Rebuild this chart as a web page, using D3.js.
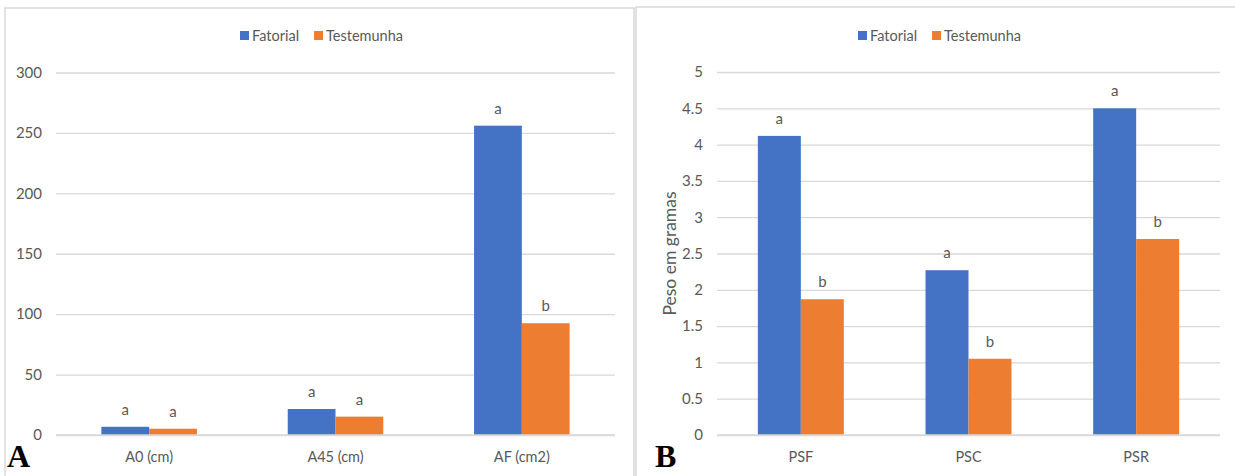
<!DOCTYPE html>
<html><head><meta charset="utf-8">
<script src="https://cdn.jsdelivr.net/npm/d3@7"></script>
<style>body{margin:0;background:#fff}svg{display:block}text{font-family:Lato,"Open Sans",sans-serif}</style>
</head><body>
<script>
const seriesNames = ["Fatorial", "Testemunha"];
const colors = ["#4472c4", "#ed7d31"];
// Panel A
const catsA = ["A0 (cm)", "A45 (cm)", "AF (cm2)"];
const fatorialA = [6.8, 21.5, 256];
const testemunhaA = [5.2, 15.2, 92.5];
const lettersFatA = ["a", "a", "a"];
const lettersTesA = ["a", "a", "b"];
const ticksA = [0, 50, 100, 150, 200, 250, 300];
// Panel B
const catsB = ["PSF", "PSC", "PSR"];
const fatorialB = [4.12, 2.27, 4.5];
const testemunhaB = [1.87, 1.05, 2.7];
const lettersFatB = ["a", "a", "a"];
const lettersTesB = ["b", "b", "b"];
const ticksB = [0, 0.5, 1, 1.5, 2, 2.5, 3, 3.5, 4, 4.5, 5];

const W = 1235, H = 476;
const svg = d3.select("body").append("svg").attr("width", W).attr("height", H);
const grid = "#d9d9d9", txt = "#595959";

// panel borders
svg.append("rect").attr("x", 5).attr("y", 8).attr("width", 629).attr("height", 480)
  .attr("fill", "none").attr("stroke", grid).attr("stroke-width", 1.5);
svg.append("rect").attr("x", 636).attr("y", 7).attr("width", 610).attr("height", 480)
  .attr("fill", "none").attr("stroke", grid).attr("stroke-width", 1.5);

function panel(o) {
  const g = svg.append("g");
  const x = d3.scaleBand().domain(o.cats).range([o.x0, o.x1]).paddingInner(0).paddingOuter(0);
  const y = d3.scaleLinear().domain([0, o.max]).range([o.yb, o.yt]);
  const inner = d3.scaleBand().domain(seriesNames).range([0, x.bandwidth()]).paddingInner(0).paddingOuter(0.95);
  // gridlines
  const ax = d3.axisLeft(y).tickValues(o.ticks).tickSize(-(o.x1 - o.x0)).tickPadding(14).tickFormat(d => String(d));
  const ga = g.append("g").attr("transform", `translate(${o.x0},0)`).call(ax);
  ga.select(".domain").remove();
  ga.selectAll(".tick line").attr("stroke", grid).attr("stroke-width", 1.3);
  ga.selectAll(".tick text").attr("fill", txt).style("font-size", "15px").attr("font-family", "Lato");
  // bars
  const data = o.cats.map((c, i) => ({c, vals: [o.s1[i], o.s2[i]], lets: [o.l1[i], o.l2[i]]}));
  data.forEach(d => {
    d.vals.forEach((v, j) => {
      const bx = x(d.c) + inner(seriesNames[j]);
      g.append("rect").attr("x", bx).attr("y", y(v)).attr("width", inner.bandwidth())
        .attr("height", y(0) - y(v)).attr("fill", colors[j]);
      g.append("text").attr("x", bx + inner.bandwidth() / 2).attr("y", y(v) - 12)
        .attr("text-anchor", "middle").attr("fill", txt).style("font-size", "15px").text(d.lets[j]);
    });
  });
  // baseline
  g.append("line").attr("x1", o.x0).attr("x2", o.x1).attr("y1", y(0)).attr("y2", y(0))
    .attr("stroke", grid).attr("stroke-width", 1.3);
  // category labels
  const xa = d3.axisBottom(x).tickSize(0).tickPadding(17);
  const gx = g.append("g").attr("transform", `translate(0,${y(0)})`).call(xa);
  gx.select(".domain").remove();
  gx.selectAll(".tick text").attr("fill", txt).style("font-size", "14.5px").attr("font-family", "Lato");
  // legend
  const lg = g.append("g").attr("transform", `translate(${o.lx},36)`);
  let cx = 0;
  seriesNames.forEach((s, j) => {
    lg.append("rect").attr("x", cx).attr("y", -5).attr("width", 9).attr("height", 9).attr("fill", colors[j]);
    const t = lg.append("text").attr("x", cx + 12).attr("y", 0).attr("dy", "0.35em").attr("fill", txt)
      .style("font-size", "14.5px").text(s);
    cx += 12 + t.node().getComputedTextLength() + 15;
  });
  // panel letter
  g.append("text").attr("x", o.letterX).attr("y", 467)
    .style("font-family", "'Liberation Serif',serif").style("font-weight", "bold").style("font-size", "32px")
    .attr("fill", "#000").text(o.letter);
  if (o.ytitle) {
    g.append("text").attr("transform", `translate(${o.ytx},${(o.yt + o.yb) / 2}) rotate(-90)`)
      .attr("text-anchor", "middle").attr("fill", txt).style("font-size", "17.5px").text(o.ytitle);
  }
}

panel({cats: catsA, s1: fatorialA, s2: testemunhaA, l1: lettersFatA, l2: lettersTesA, ticks: ticksA,
  max: 300, x0: 56, x1: 615, yt: 72.5, yb: 435, lx: 240, letter: "A", letterX: 7});
panel({cats: catsB, s1: fatorialB, s2: testemunhaB, l1: lettersFatB, l2: lettersTesB, ticks: ticksB,
  max: 5, x0: 717, x1: 1220, yt: 72, yb: 435, lx: 858, letter: "B", letterX: 655, ytitle: "Peso em gramas", ytx: 676});
</script>
</body></html>
